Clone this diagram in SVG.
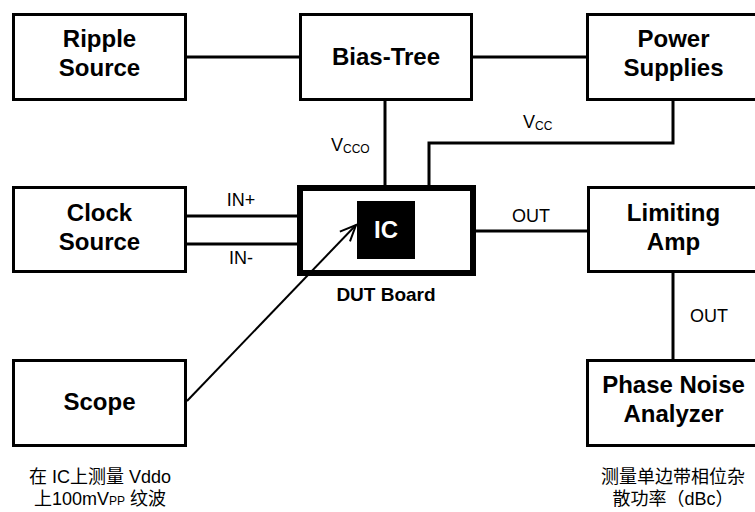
<svg xmlns="http://www.w3.org/2000/svg" width="755" height="512" viewBox="0 0 755 512">
<defs>
<style>
.box{fill:#fff;stroke:#000;stroke-width:3}
.dut{fill:#fff;stroke:#000;stroke-width:6}
.bl{font-family:"Liberation Sans",Arial,sans-serif;font-weight:bold;font-size:24px;text-anchor:middle;fill:#000}
.lb{font-family:"Liberation Sans",Arial,sans-serif;font-size:18px;fill:#000}
.cap{font-family:"Liberation Sans","Noto Sans CJK SC",sans-serif;font-size:18px;text-anchor:middle;fill:#000}
.wire{fill:none;stroke:#000;stroke-width:3}
.thin{fill:none;stroke:#000;stroke-width:2}
</style>
<marker id="open" viewBox="0 0 20 20" refX="18" refY="10" markerWidth="20" markerHeight="20" markerUnits="userSpaceOnUse" orient="auto">
<path d="M2,3 L18,10 L2,17" fill="none" stroke="#000" stroke-width="2"/>
</marker>
</defs>
<rect width="755" height="512" fill="#fff"/>
<g id="ripple">
<rect class="box" x="13.5" y="14.5" width="172" height="85"/>
<text class="bl" x="99.5" y="47">Ripple</text>
<text class="bl" x="99.5" y="76">Source</text>
</g>
<g id="biastree">
<rect class="box" x="300.5" y="14.5" width="171" height="85"/>
<text class="bl" x="386" y="65">Bias-Tree</text>
</g>
<g id="power">
<rect class="box" x="587.5" y="14.5" width="172" height="85"/>
<text class="bl" x="673.5" y="47">Power</text>
<text class="bl" x="673.5" y="76">Supplies</text>
</g>
<g id="clock">
<rect class="box" x="13.5" y="187.5" width="172" height="84"/>
<text class="bl" x="99.5" y="221">Clock</text>
<text class="bl" x="99.5" y="250">Source</text>
</g>
<g id="dut">
<rect class="dut" x="300" y="188" width="173" height="85"/>
<rect x="357" y="201" width="58" height="58" fill="#000"/>
<text class="bl" x="386" y="238" style="fill:#fff">IC</text>
<text class="bl" x="386" y="301" style="font-size:19px">DUT Board</text>
</g>
<g id="limiting">
<rect class="box" x="588.5" y="187.5" width="172" height="84"/>
<text class="bl" x="673.5" y="221">Limiting</text>
<text class="bl" x="673.5" y="250">Amp</text>
</g>
<g id="scope">
<rect class="box" x="13.5" y="360.5" width="172" height="85"/>
<text class="bl" x="99.5" y="410">Scope</text>
<text class="cap" x="100" y="483">在 IC上测量 Vddo</text>
<text class="cap" x="100" y="505">上100mV<tspan font-size="12">PP</tspan> 纹波</text>
</g>
<g id="phasenoise">
<rect class="box" x="587.5" y="360.5" width="172" height="85"/>
<text class="bl" x="673.5" y="393">Phase Noise</text>
<text class="bl" x="673.5" y="422">Analyzer</text>
<text class="cap" x="673" y="483">测量单边带相位杂</text>
<text class="cap" x="673" y="505">散功率（dBc）</text>
</g>
<g id="connectors">
<line class="wire" x1="187" y1="57" x2="299" y2="57"/>
<line class="wire" x1="473" y1="57" x2="586" y2="57"/>
<line class="wire" x1="385" y1="101" x2="385" y2="186"/>
<polyline class="wire" points="673,101 673,143 429,143 429,186"/>
<line class="wire" x1="187" y1="216" x2="298" y2="216"/>
<line class="wire" x1="187" y1="244" x2="298" y2="244"/>
<line class="wire" x1="476" y1="231" x2="587" y2="231"/>
<line class="wire" x1="673" y1="273" x2="673" y2="359"/>
<line class="thin" x1="187" y1="401" x2="356" y2="225" marker-end="url(#open)"/>
<text class="lb" x="331" y="151">V<tspan font-size="12" dy="2">CCO</tspan></text>
<text class="lb" x="523" y="128">V<tspan font-size="12" dy="2">CC</tspan></text>
<text class="lb" x="241" y="206" text-anchor="middle">IN+</text>
<text class="lb" x="241" y="264" text-anchor="middle">IN-</text>
<text class="lb" x="531" y="222" text-anchor="middle">OUT</text>
<text class="lb" x="709" y="322" text-anchor="middle">OUT</text>
</g>
</svg>
